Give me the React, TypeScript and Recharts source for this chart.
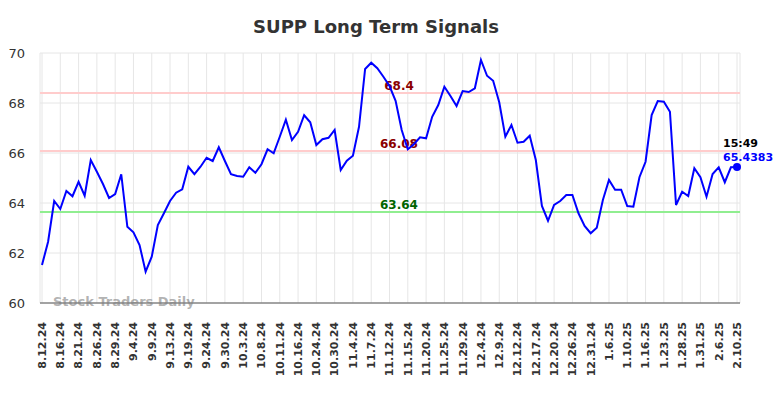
import { LineChart, Line, XAxis, YAxis, CartesianGrid, ReferenceLine } from 'recharts';

// one label every third trading day
const tickLabels = [
  '8.12.24', '8.16.24', '8.21.24', '8.26.24', '8.29.24', '9.4.24', '9.9.24', '9.13.24',
  '9.19.24', '9.24.24', '9.30.24', '10.3.24', '10.8.24', '10.11.24', '10.16.24', '10.24.24',
  '10.30.24', '11.4.24', '11.7.24', '11.12.24', '11.15.24', '11.20.24', '11.25.24', '11.29.24',
  '12.4.24', '12.9.24', '12.12.24', '12.17.24', '12.20.24', '12.26.24', '12.31.24', '1.6.25',
  '1.10.25', '1.16.25', '1.23.25', '1.28.25', '1.31.25', '2.6.25', '2.10.25'
];

const prices = [
  61.52, 62.45, 64.08, 63.76, 64.48, 64.27, 64.85, 64.29, 65.72, 65.25,
  64.76, 64.20, 64.36, 65.15, 63.05, 62.83, 62.32, 61.25, 61.85, 63.12,
  63.59, 64.08, 64.41, 64.55, 65.45, 65.15, 65.45, 65.81, 65.68, 66.23,
  65.68, 65.15, 65.08, 65.05, 65.43, 65.21, 65.55, 66.15, 65.99, 66.65,
  67.33, 66.52, 66.85, 67.51, 67.23, 66.32, 66.55, 66.61, 66.92, 65.32,
  65.69, 65.89, 67.05, 69.36, 69.61, 69.39, 69.05, 68.68, 68.09, 66.92,
  66.15, 66.35, 66.63, 66.59, 67.45, 67.92, 68.65, 68.28, 67.88, 68.48,
  68.44, 68.59, 69.72, 69.09, 68.89, 68.03, 66.65, 67.12, 66.41, 66.45,
  66.69, 65.72, 63.88, 63.29, 63.92, 64.08, 64.32, 64.32, 63.59, 63.08,
  62.79, 63.01, 64.12, 64.92, 64.53, 64.53, 63.88, 63.85, 65.03, 65.65,
  67.52, 68.08, 68.05, 67.65, 63.92, 64.45, 64.28, 65.39, 65.03, 64.25,
  65.16, 65.43, 64.83, 65.43, 65.4383
];

const yTicks = [60, 62, 64, 66, 68, 70];
const resistanceHigh = 68.4;
const resistanceLow = 66.08;
const support = 63.64;
const lastTime = '15:49';

const FONT = '"DejaVu Sans", sans-serif';

const data = prices.map((p, i) => ({ i, price: p }));
const tickIdx = tickLabels.map((_, k) => k * 3);

function XTick({ x, y, payload }: any) {
  const label = tickLabels[payload.value / 3];
  return (
    <g transform={`translate(${x},${y})`}>
      <text
        x={-11}
        y={0}
        dy="0.35em"
        transform="rotate(-90)"
        textAnchor="end"
        fontSize={11}
        fontWeight="bold"
        fontFamily={FONT}
        fill="#333"
      >
        {label}
      </text>
    </g>
  );
}

function LevelLabel({ viewBox, text, color }: any) {
  if (!viewBox) return null;
  return (
    <text
      x={viewBox.x + viewBox.width / 2 + 9}
      y={viewBox.y - 3}
      textAnchor="middle"
      fontSize={12}
      fontWeight="bold"
      fontFamily={FONT}
      fill={color}
    >
      {text}
    </text>
  );
}

function LastDot(props: any) {
  const { cx, cy, index } = props;
  if (index !== prices.length - 1) return <g key={`d-${index}`} />;
  return (
    <g key={`d-${index}`}>
      <circle cx={cx} cy={cy} r={4} fill="#0000ff" />
      <text x={cx - 14} y={cy - 20} fontSize={11} fontWeight="bold" fontFamily={FONT} fill="#000">
        {lastTime}
      </text>
      <text x={cx - 14} y={cy - 6} fontSize={11} fontWeight="bold" fontFamily={FONT} fill="#0000ff">
        {prices[prices.length - 1]}
      </text>
    </g>
  );
}

export default function App() {
  return (
    <div style={{ position: 'relative', width: 784, height: 398, background: '#fff' }}>
      <style>{'body{margin:0}'}</style>
      <div
        style={{
          position: 'absolute',
          top: 16,
          left: 0,
          width: 752,
          textAlign: 'center',
          fontFamily: FONT,
          fontWeight: 'bold',
          fontSize: 18,
          color: '#333',
          lineHeight: '22px'
        }}
      >
        SUPP Long Term Signals
      </div>
      <LineChart width={784} height={398} data={data} margin={{ top: 53, right: 44, bottom: 15, left: 0 }}>
        <CartesianGrid stroke="#e6e6e6" strokeWidth={1} />
        <XAxis
          dataKey="i"
          type="number"
          domain={[0, prices.length - 1]}
          ticks={tickIdx}
          interval={0}
          padding={{ left: 2, right: 3 }}
          height={80}
          tick={<XTick />}
          tickLine={false}
          axisLine={{ stroke: '#555', strokeWidth: 1.2 }}
        />
        <YAxis
          domain={[60, 70]}
          ticks={yTicks}
          width={40}
          tickLine={false}
          axisLine={false}
          tickMargin={9}
          tick={{ fontSize: 13, fill: '#333', fontFamily: FONT }}
        />
        <ReferenceLine
          y={resistanceHigh}
          stroke="#ffcccc"
          strokeWidth={2}
          label={<LevelLabel text="68.4" color="#8b0000" />}
        />
        <ReferenceLine
          y={resistanceLow}
          stroke="#ffcccc"
          strokeWidth={2}
          label={<LevelLabel text="66.08" color="#8b0000" />}
        />
        <ReferenceLine
          y={support}
          stroke="#90ee90"
          strokeWidth={2}
          label={<LevelLabel text="63.64" color="#006400" />}
        />
        <Line
          type="linear"
          dataKey="price"
          stroke="#0000ff"
          strokeWidth={2}
          dot={LastDot}
          activeDot={false}
          isAnimationActive={false}
        />
      </LineChart>
      <div
        style={{
          position: 'absolute',
          left: 53,
          top: 294,
          fontFamily: FONT,
          fontWeight: 'bold',
          fontSize: 13,
          color: 'rgba(128,128,128,0.6)',
          lineHeight: '16px',
          whiteSpace: 'nowrap'
        }}
      >
        Stock Traders Daily
      </div>
    </div>
  );
}
